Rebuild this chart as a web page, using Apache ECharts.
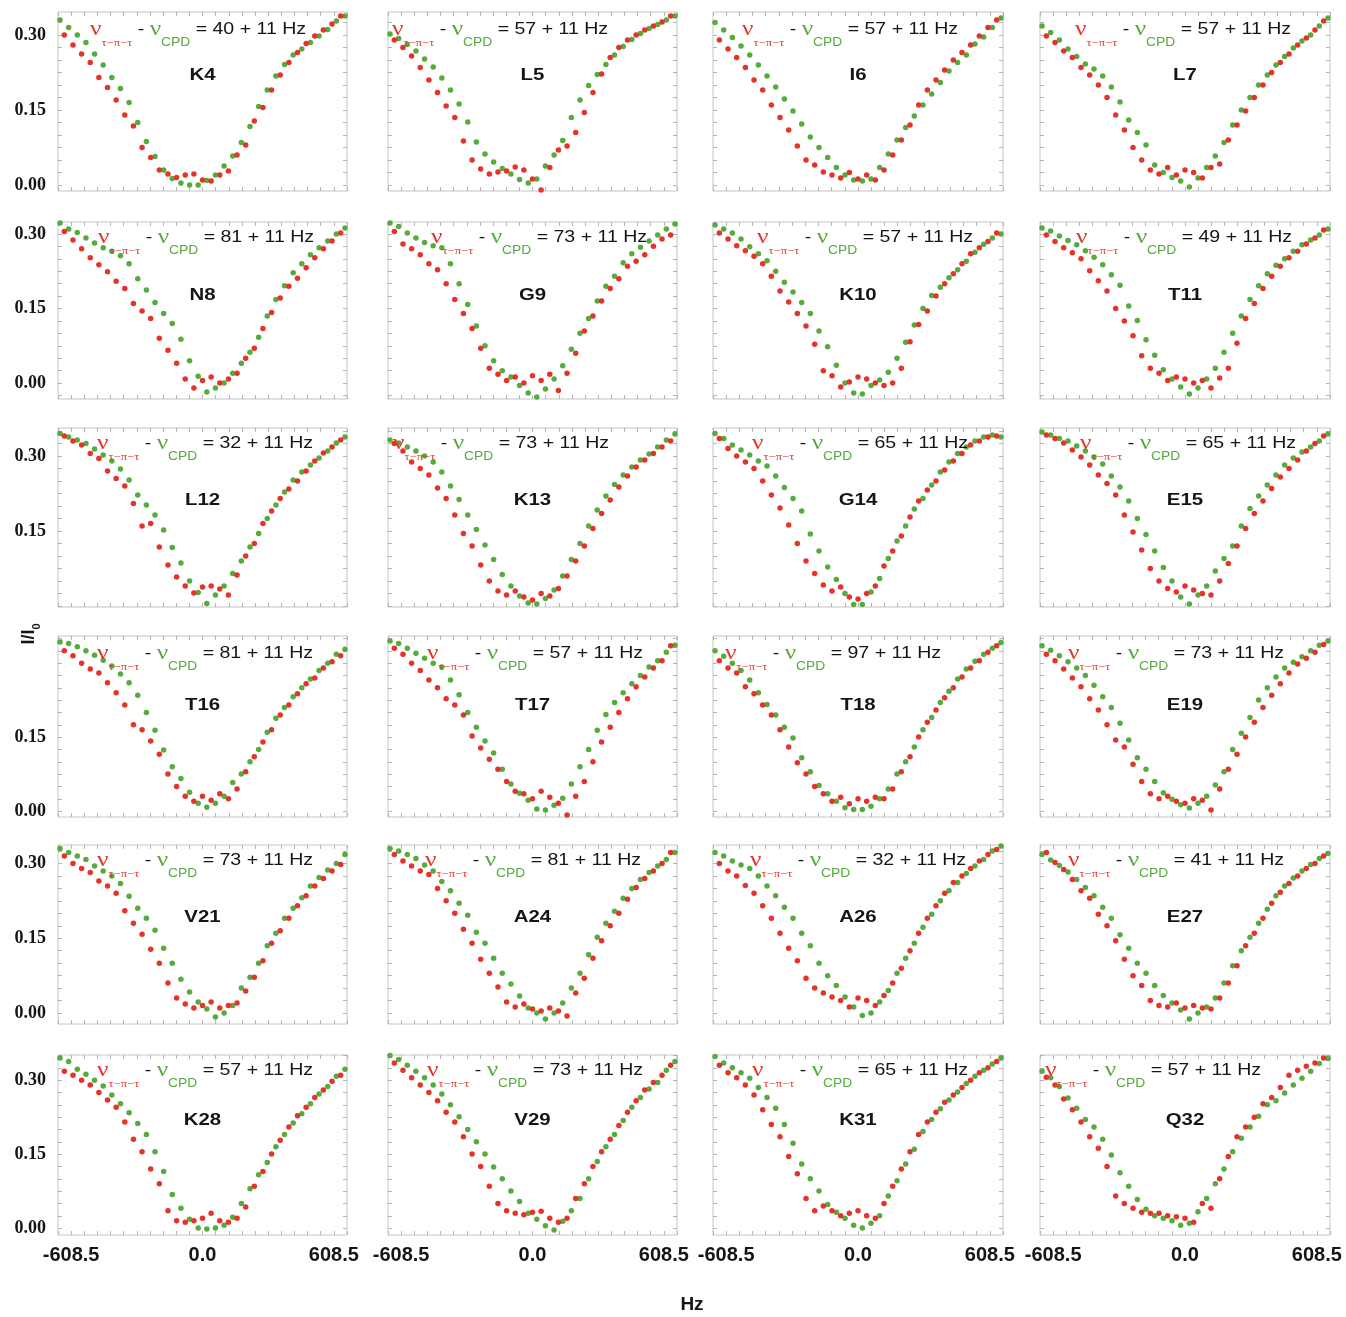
<!DOCTYPE html>
<html><head><meta charset="utf-8">
<script src="https://cdn.jsdelivr.net/npm/echarts@6/dist/echarts.min.js"></script>
<style>html,body{margin:0;padding:0;background:#fff}#c{width:1346px;height:1317px}</style>
</head><body><div id="c"></div>
<script>
// ---------- data ----------
const xGreen = [-660,-620,-580,-540,-500,-460,-420,-380,-340,-300,-260,-220,-180,-140,-100,-60,-20,20,60,100,140,180,220,260,300,340,380,420,460,500,540,580,620,660];
const xRed = [-640,-600,-560,-520,-480,-440,-400,-360,-320,-280,-240,-200,-160,-120,-80,-40,0,40,80,120,160,200,240,280,320,360,400,440,480,520,560,600,640];
const panelNames = ['K4','L5','I6','L7','N8','G9','K10','T11','L12','K13','G14','E15','T16','T17','T18','E19','V21','A24','A26','E27','K28','V29','K31','Q32'];
const deltaNu = [40,57,57,57,81,73,57,49,32,73,65,65,81,57,97,73,73,81,32,41,57,73,65,57];
const deltaErr = 11;
const xTickLabels = [-608.5, 0, 608.5];

const gK4 = [0.33,0.315,0.30,0.285,0.262,0.24,0.215,0.193,0.165,0.125,0.087,0.057,0.03,0.013,0.004,0.0,0.0,0.009,0.02,0.038,0.058,0.085,0.117,0.157,0.19,0.218,0.241,0.26,0.272,0.285,0.298,0.311,0.328,0.338];
const rK4 = [0.30,0.28,0.262,0.245,0.215,0.195,0.17,0.14,0.118,0.075,0.055,0.03,0.022,0.015,0.02,0.022,0.01,0.008,0.02,0.028,0.06,0.08,0.128,0.155,0.19,0.22,0.245,0.265,0.283,0.298,0.31,0.322,0.338];
const gL5 = [0.302,0.293,0.281,0.268,0.252,0.236,0.214,0.19,0.162,0.126,0.086,0.062,0.046,0.033,0.022,0.011,0.004,0.012,0.038,0.06,0.089,0.135,0.17,0.199,0.221,0.241,0.26,0.277,0.291,0.303,0.313,0.321,0.33,0.338];
const rL5 = [0.29,0.275,0.258,0.235,0.21,0.185,0.158,0.135,0.088,0.05,0.032,0.022,0.026,0.028,0.036,0.03,0.012,-0.01,0.035,0.07,0.078,0.105,0.145,0.185,0.222,0.255,0.275,0.29,0.3,0.31,0.318,0.326,0.338];
const gI6 = [0.325,0.31,0.295,0.278,0.26,0.24,0.218,0.196,0.172,0.148,0.122,0.096,0.075,0.055,0.035,0.02,0.01,0.008,0.012,0.035,0.062,0.09,0.115,0.138,0.16,0.182,0.205,0.228,0.245,0.26,0.282,0.296,0.315,0.334];
const rI6 = [0.29,0.272,0.255,0.235,0.21,0.19,0.16,0.135,0.11,0.078,0.05,0.04,0.026,0.02,0.014,0.025,0.012,0.02,0.01,0.03,0.06,0.09,0.12,0.16,0.19,0.21,0.23,0.25,0.265,0.28,0.298,0.315,0.33];
const gL7 = [0.318,0.305,0.29,0.272,0.257,0.242,0.232,0.218,0.196,0.166,0.13,0.105,0.08,0.04,0.025,0.015,0.008,-0.004,0.014,0.035,0.058,0.085,0.12,0.15,0.175,0.2,0.22,0.24,0.257,0.274,0.288,0.3,0.318,0.334];
const rL7 = [0.298,0.285,0.268,0.255,0.235,0.22,0.2,0.175,0.14,0.11,0.075,0.05,0.03,0.022,0.035,0.02,0.03,0.025,0.014,0.035,0.042,0.09,0.12,0.148,0.175,0.2,0.225,0.245,0.262,0.28,0.294,0.31,0.328];
const gN8 = [0.322,0.31,0.303,0.292,0.282,0.272,0.265,0.256,0.24,0.21,0.187,0.162,0.14,0.12,0.088,0.045,0.014,-0.018,-0.01,0.0,0.02,0.04,0.062,0.092,0.135,0.168,0.196,0.222,0.24,0.258,0.272,0.286,0.3,0.312];
const rN8 = [0.305,0.288,0.27,0.252,0.238,0.224,0.205,0.19,0.16,0.145,0.13,0.09,0.066,0.04,0.008,-0.01,0.005,0.012,0.0,0.008,0.02,0.05,0.07,0.11,0.142,0.171,0.195,0.211,0.232,0.252,0.27,0.286,0.302];
const gG9 = [0.322,0.315,0.302,0.292,0.283,0.276,0.272,0.24,0.2,0.158,0.115,0.075,0.045,0.025,0.012,-0.005,-0.02,-0.028,-0.012,0.008,0.035,0.068,0.1,0.13,0.165,0.195,0.215,0.242,0.26,0.273,0.286,0.298,0.31,0.32];
const rG9 = [0.305,0.28,0.27,0.258,0.24,0.228,0.2,0.168,0.14,0.11,0.07,0.03,0.018,0.005,0.012,0.0,0.015,0.005,0.018,-0.015,0.02,0.06,0.105,0.135,0.165,0.19,0.21,0.235,0.245,0.258,0.275,0.29,0.298];
const gK10 = [0.318,0.31,0.302,0.29,0.274,0.26,0.246,0.225,0.203,0.183,0.162,0.14,0.105,0.073,0.036,0.0,-0.02,-0.022,-0.005,0.006,0.022,0.05,0.082,0.117,0.15,0.176,0.193,0.212,0.228,0.245,0.263,0.279,0.292,0.3];
const rK10 = [0.302,0.29,0.276,0.266,0.255,0.24,0.215,0.185,0.163,0.14,0.115,0.078,0.025,0.015,-0.008,0.002,0.012,0.008,0.0,-0.005,0.0,0.03,0.083,0.118,0.145,0.175,0.2,0.22,0.24,0.26,0.272,0.285,0.302];
const gT11 = [0.312,0.306,0.296,0.287,0.278,0.266,0.253,0.238,0.218,0.197,0.155,0.126,0.087,0.056,0.027,0.008,-0.008,-0.022,-0.01,0.008,0.03,0.062,0.1,0.135,0.168,0.196,0.22,0.237,0.25,0.265,0.278,0.288,0.298,0.31];
const rT11 = [0.298,0.285,0.272,0.262,0.25,0.226,0.206,0.185,0.15,0.125,0.095,0.055,0.03,0.02,0.005,0.012,0.008,0.0,0.005,-0.01,0.01,0.03,0.08,0.13,0.16,0.19,0.215,0.235,0.252,0.265,0.28,0.292,0.308];
const gL12 = [0.345,0.338,0.332,0.325,0.314,0.302,0.29,0.274,0.252,0.222,0.202,0.182,0.152,0.117,0.086,0.05,0.027,0.005,0.022,0.04,0.065,0.09,0.118,0.145,0.175,0.202,0.228,0.252,0.268,0.282,0.296,0.31,0.326,0.338];
const rL12 = [0.34,0.33,0.322,0.305,0.295,0.27,0.255,0.24,0.205,0.16,0.165,0.118,0.082,0.058,0.04,0.026,0.038,0.04,0.034,0.022,0.062,0.1,0.125,0.165,0.19,0.215,0.234,0.25,0.27,0.29,0.306,0.318,0.332];
const gK13 = [0.332,0.326,0.318,0.31,0.3,0.288,0.268,0.24,0.213,0.182,0.153,0.122,0.093,0.063,0.04,0.02,0.006,0.004,0.015,0.032,0.06,0.093,0.125,0.16,0.192,0.22,0.243,0.262,0.278,0.292,0.304,0.318,0.332,0.344];
const rK13 = [0.325,0.31,0.288,0.275,0.262,0.236,0.215,0.182,0.145,0.12,0.082,0.05,0.03,0.022,0.03,0.018,0.012,0.025,0.02,0.035,0.06,0.09,0.12,0.155,0.185,0.212,0.238,0.26,0.278,0.292,0.305,0.318,0.33];
const gG14 = [0.345,0.335,0.322,0.312,0.302,0.29,0.28,0.26,0.237,0.215,0.19,0.144,0.11,0.078,0.053,0.025,0.003,0.003,0.028,0.055,0.095,0.13,0.16,0.194,0.215,0.242,0.268,0.288,0.305,0.318,0.33,0.338,0.342,0.338];
const rG14 = [0.335,0.315,0.3,0.288,0.275,0.25,0.222,0.196,0.162,0.125,0.09,0.065,0.042,0.03,0.038,0.018,0.014,0.025,0.04,0.08,0.11,0.14,0.178,0.21,0.232,0.25,0.272,0.29,0.305,0.322,0.33,0.338,0.34];
const gE15 = [0.348,0.342,0.335,0.33,0.32,0.31,0.298,0.284,0.26,0.238,0.21,0.175,0.143,0.11,0.077,0.05,0.018,0.004,0.022,0.04,0.07,0.095,0.12,0.16,0.195,0.22,0.242,0.262,0.282,0.296,0.308,0.318,0.33,0.344];
const rE15 = [0.342,0.335,0.326,0.312,0.298,0.282,0.262,0.245,0.222,0.182,0.148,0.112,0.075,0.05,0.035,0.028,0.04,0.032,0.025,0.022,0.05,0.085,0.12,0.155,0.185,0.21,0.235,0.258,0.275,0.292,0.31,0.325,0.34];
const gT16 = [0.343,0.34,0.333,0.325,0.316,0.306,0.294,0.278,0.26,0.235,0.2,0.164,0.124,0.09,0.066,0.038,0.016,0.008,0.016,0.03,0.058,0.075,0.1,0.125,0.16,0.188,0.21,0.232,0.25,0.268,0.285,0.3,0.318,0.328];
const rT16 = [0.325,0.315,0.3,0.288,0.28,0.26,0.24,0.215,0.175,0.165,0.142,0.115,0.075,0.05,0.03,0.02,0.03,0.022,0.035,0.025,0.045,0.08,0.11,0.14,0.165,0.195,0.215,0.238,0.258,0.27,0.29,0.303,0.315];
const gT17 = [0.345,0.34,0.33,0.32,0.31,0.3,0.292,0.266,0.236,0.2,0.17,0.142,0.118,0.085,0.055,0.036,0.022,0.004,0.002,0.012,0.026,0.055,0.09,0.125,0.164,0.196,0.22,0.24,0.258,0.275,0.292,0.305,0.322,0.336];
const rT17 = [0.33,0.318,0.3,0.285,0.266,0.25,0.228,0.215,0.195,0.152,0.128,0.105,0.085,0.06,0.04,0.035,0.025,0.04,0.028,0.016,-0.008,0.03,0.06,0.1,0.14,0.17,0.2,0.228,0.252,0.272,0.29,0.305,0.335];
const gT18 = [0.325,0.314,0.3,0.285,0.266,0.24,0.216,0.195,0.17,0.148,0.108,0.08,0.052,0.035,0.02,0.007,0.003,0.003,0.01,0.025,0.045,0.075,0.1,0.13,0.165,0.19,0.22,0.243,0.268,0.288,0.304,0.318,0.33,0.342];
const rT18 = [0.305,0.29,0.28,0.252,0.238,0.215,0.195,0.165,0.13,0.098,0.075,0.05,0.035,0.02,0.028,0.015,0.025,0.02,0.028,0.025,0.045,0.08,0.11,0.15,0.18,0.205,0.23,0.25,0.272,0.29,0.305,0.322,0.335];
const gE19 = [0.335,0.326,0.315,0.303,0.29,0.275,0.255,0.232,0.21,0.178,0.144,0.108,0.085,0.06,0.037,0.024,0.013,0.006,0.016,0.03,0.053,0.08,0.125,0.158,0.19,0.225,0.25,0.272,0.29,0.302,0.313,0.325,0.336,0.345];
const rE19 = [0.318,0.305,0.288,0.27,0.252,0.228,0.205,0.175,0.144,0.13,0.095,0.06,0.035,0.025,0.03,0.02,0.016,0.025,0.022,0.002,0.045,0.085,0.115,0.15,0.18,0.21,0.235,0.258,0.28,0.298,0.31,0.322,0.338];
const gV21 = [0.33,0.322,0.315,0.308,0.295,0.285,0.275,0.26,0.234,0.21,0.19,0.166,0.13,0.1,0.068,0.042,0.022,0.008,-0.008,0.0,0.015,0.05,0.072,0.1,0.135,0.16,0.19,0.21,0.231,0.255,0.272,0.287,0.3,0.318];
const rV21 = [0.315,0.3,0.29,0.282,0.265,0.255,0.24,0.205,0.18,0.158,0.128,0.1,0.06,0.03,0.018,0.01,0.015,0.022,0.01,0.015,0.02,0.044,0.072,0.105,0.14,0.165,0.19,0.215,0.235,0.255,0.27,0.285,0.298];
const gA24 = [0.33,0.325,0.318,0.31,0.297,0.285,0.264,0.245,0.22,0.196,0.162,0.14,0.11,0.08,0.058,0.034,0.01,0.0,-0.012,0.0,0.02,0.05,0.08,0.117,0.152,0.18,0.204,0.23,0.25,0.268,0.282,0.295,0.308,0.322];
const rA24 = [0.318,0.305,0.295,0.285,0.278,0.25,0.225,0.2,0.168,0.14,0.108,0.08,0.052,0.022,0.012,0.018,0.008,0.004,0.01,0.004,-0.006,0.04,0.07,0.11,0.145,0.175,0.2,0.228,0.252,0.27,0.285,0.3,0.322];
const gA26 = [0.322,0.315,0.305,0.297,0.29,0.275,0.255,0.235,0.212,0.19,0.16,0.135,0.1,0.075,0.055,0.032,0.012,-0.005,0.0,0.022,0.045,0.08,0.11,0.14,0.172,0.198,0.225,0.245,0.262,0.28,0.295,0.308,0.325,0.335];
const rA26 = [0.3,0.285,0.275,0.256,0.24,0.215,0.19,0.16,0.13,0.105,0.07,0.05,0.04,0.032,0.025,0.012,0.03,0.025,0.015,0.035,0.06,0.09,0.125,0.16,0.19,0.215,0.24,0.262,0.275,0.29,0.305,0.318,0.328];
const gE27 = [0.318,0.307,0.296,0.283,0.268,0.252,0.235,0.212,0.19,0.157,0.13,0.1,0.08,0.055,0.035,0.02,0.006,-0.012,0.0,0.012,0.03,0.06,0.095,0.125,0.152,0.18,0.208,0.235,0.255,0.271,0.285,0.298,0.31,0.32];
const rE27 = [0.322,0.302,0.288,0.268,0.245,0.23,0.198,0.175,0.145,0.108,0.075,0.055,0.025,0.015,0.012,0.02,0.01,0.015,0.01,0.008,0.03,0.06,0.095,0.135,0.16,0.19,0.22,0.242,0.26,0.275,0.29,0.3,0.315];
const gK28 = [0.345,0.338,0.322,0.312,0.3,0.288,0.27,0.252,0.234,0.212,0.19,0.155,0.115,0.068,0.04,0.018,0.0,-0.002,0.0,0.006,0.022,0.05,0.08,0.108,0.133,0.165,0.19,0.213,0.232,0.252,0.272,0.287,0.308,0.322];
const rK28 = [0.318,0.31,0.3,0.29,0.275,0.26,0.245,0.215,0.18,0.155,0.12,0.09,0.035,0.015,0.012,0.015,0.02,0.03,0.015,0.012,0.02,0.043,0.085,0.115,0.15,0.178,0.205,0.228,0.245,0.265,0.28,0.298,0.31];
const gV29 = [0.35,0.342,0.33,0.318,0.305,0.29,0.272,0.25,0.226,0.2,0.175,0.15,0.124,0.1,0.075,0.054,0.03,0.018,0.005,-0.004,0.014,0.035,0.06,0.1,0.135,0.165,0.19,0.218,0.245,0.265,0.282,0.295,0.32,0.338];
const rV29 = [0.335,0.32,0.305,0.29,0.275,0.258,0.235,0.215,0.185,0.15,0.125,0.085,0.05,0.035,0.03,0.027,0.032,0.034,0.02,0.012,0.02,0.06,0.09,0.125,0.155,0.18,0.208,0.235,0.258,0.28,0.295,0.31,0.33];
const gK31 = [0.348,0.335,0.325,0.315,0.304,0.285,0.265,0.243,0.21,0.172,0.13,0.1,0.075,0.048,0.032,0.02,0.006,0.0,0.01,0.025,0.065,0.096,0.13,0.16,0.196,0.22,0.242,0.26,0.276,0.293,0.308,0.32,0.333,0.345];
const rK31 = [0.33,0.315,0.305,0.29,0.27,0.24,0.21,0.185,0.145,0.11,0.06,0.035,0.045,0.035,0.025,0.03,0.035,0.025,0.02,0.05,0.085,0.12,0.155,0.19,0.215,0.235,0.255,0.27,0.285,0.3,0.315,0.325,0.338];
const gQ32 = [0.318,0.305,0.287,0.264,0.243,0.22,0.205,0.18,0.148,0.112,0.085,0.058,0.038,0.025,0.02,0.015,0.006,0.01,0.033,0.06,0.09,0.12,0.155,0.182,0.205,0.227,0.25,0.258,0.274,0.29,0.304,0.318,0.334,0.344];
const rQ32 = [0.306,0.29,0.262,0.24,0.215,0.185,0.162,0.125,0.065,0.05,0.04,0.032,0.03,0.03,0.025,0.023,0.02,0.012,0.05,0.04,0.1,0.145,0.185,0.205,0.225,0.252,0.265,0.285,0.31,0.32,0.328,0.335,0.345];

const greenSets = [gK4,gL5,gI6,gL7,gN8,gG9,gK10,gT11,gL12,gK13,gG14,gE15,gT16,gT17,gT18,gE19,gV21,gA24,gA26,gE27,gK28,gV29,gK31,gQ32];
const redSets = [rK4,rL5,rI6,rL7,rN8,rG9,rK10,rT11,rL12,rK13,rG14,rE15,rT16,rT17,rT18,rE19,rV21,rA24,rA26,rE27,rK28,rV29,rK31,rQ32];

// ---------- layout / style ----------
const RED = '#e5332a', GREEN = '#55ab3c', INK = '#151515';
const SANS = '"Liberation Sans", Arial, sans-serif';
const SERIF = '"Liberation Serif", "Times New Roman", serif';
const colLeft = [58, 388, 713, 1040], colW = [289, 289, 290, 290];
const rowTop = [12, 222, 428, 636, 845, 1055], rowH = [179, 177, 179, 181, 179, 180];
const rowYMin = [-0.012, -0.032, -0.002, -0.012, -0.022, -0.014];
const rowYMax = [0.346, 0.324, 0.356, 0.355, 0.337, 0.351];
const rowYLabels = [[0, 0.15, 0.3], [0, 0.15, 0.3], [0.15, 0.3], [0, 0.15], [0, 0.15, 0.3], [0, 0.15, 0.3]];
const formulaDX = [32, 4, 29, 35, 40, 43, 44, 36, 39, 5, 39, 40, 39, 39, 12, 28, 39, 37, 37, 28, 39, 39, 39, 5];
const formulaDY = [17, 15, 15, 17, 15, 15];
const labelDY = [63, 73, 72, 69, 72, 65];
const X_MIN = -669.35, X_MAX = 669.35, X_STEP = 60.85;

const xTicks = [];
for (let k = -11; k <= 11; k++) xTicks.push(+(k * X_STEP).toFixed(2));
function yTicksFor(r) {
  const out = [];
  for (let v = Math.ceil(rowYMin[r] / 0.025) * 0.025; v <= rowYMax[r] + 1e-9; v += 0.025) out.push(Math.round(v * 1000) / 1000);
  return out;
}

const grids = [], xAxes = [], yAxes = [], series = [], graphics = [];
panelNames.forEach((name, i) => {
  const r = Math.floor(i / 4), c = i % 4;
  grids.push({ left: colLeft[c], top: rowTop[r], width: colW[c], height: rowH[r], show: true,
    borderColor: '#c6c6c6', borderWidth: 1, backgroundColor: 'transparent' });
  const tickStyle = { show: true, inside: true, length: 4, lineStyle: { color: '#b5b5b5', width: 1 } };
  const noLine = { show: false, onZero: false };
  const yT = yTicksFor(r);
  xAxes.push({ gridIndex: i, type: 'value', position: 'bottom', min: X_MIN, max: X_MAX,
    axisLine: noLine, splitLine: { show: false },
    axisTick: Object.assign({ customValues: xTicks }, tickStyle),
    axisLabel: { show: r === 5, customValues: xTickLabels, formatter: v => v.toFixed(1),
      fontFamily: SANS, fontWeight: 'bold', fontSize: 20, color: INK, margin: 10 } });
  xAxes.push({ gridIndex: i, type: 'value', position: 'top', min: X_MIN, max: X_MAX,
    axisLine: noLine, splitLine: { show: false },
    axisTick: Object.assign({ customValues: xTicks }, tickStyle), axisLabel: { show: false } });
  yAxes.push({ gridIndex: i, type: 'value', position: 'left', min: rowYMin[r], max: rowYMax[r],
    axisLine: noLine, splitLine: { show: false },
    axisTick: Object.assign({ customValues: yT }, tickStyle),
    axisLabel: { show: c === 0, customValues: rowYLabels[r], formatter: v => v.toFixed(2),
      fontFamily: SERIF, fontWeight: 'bold', fontSize: 18, color: INK, margin: 12 } });
  yAxes.push({ gridIndex: i, type: 'value', position: 'right', min: rowYMin[r], max: rowYMax[r],
    axisLine: noLine, splitLine: { show: false },
    axisTick: Object.assign({ customValues: yT }, tickStyle), axisLabel: { show: false } });

  series.push({ type: 'scatter', name: name + ' CPD', xAxisIndex: 2 * i, yAxisIndex: 2 * i,
    symbolSize: 5.5, itemStyle: { color: GREEN, opacity: 1 }, silent: true,
    data: xGreen.map((x, j) => [x, greenSets[i][j]]) });
  series.push({ type: 'scatter', name: name + ' tpt', xAxisIndex: 2 * i, yAxisIndex: 2 * i,
    symbolSize: 5.5, itemStyle: { color: RED, opacity: 1 }, silent: true,
    data: xRed.map((x, j) => [x, redSets[i][j]]) });

  graphics.push({ type: 'text', x: colLeft[c] + formulaDX[i], y: rowTop[r] + formulaDY[r], scaleX: 1.15, z: 100,
    style: {
      text: '{nu|\u03BD}{s1|\u03C4\u2212\u03C0\u2212\u03C4}{m| - }{nug|\u03BD}{s2|CPD}{m| = ' + deltaNu[i] + ' + ' + deltaErr + ' Hz}',
      align: 'left', verticalAlign: 'middle',
      rich: {
        nu: { fontFamily: SERIF, fontSize: 22, fill: RED, lineHeight: 40, verticalAlign: 'middle' },
        s1: { fontFamily: SERIF, fontSize: 11, fill: RED, lineHeight: 11, verticalAlign: 'bottom' },
        m: { fontFamily: SANS, fontSize: 17, fill: INK, lineHeight: 40, verticalAlign: 'middle' },
        nug: { fontFamily: SERIF, fontSize: 22, fill: GREEN, lineHeight: 40, verticalAlign: 'middle' },
        s2: { fontFamily: SANS, fontSize: 12, fill: GREEN, lineHeight: 22, verticalAlign: 'bottom' }
      }
    } });
  graphics.push({ type: 'text', x: colLeft[c] + colW[c] / 2, y: rowTop[r] + labelDY[r], scaleX: 1.2, z: 100,
    style: { text: name, fontFamily: SANS, fontWeight: 'bold', fontSize: 17, fill: INK, align: 'center', verticalAlign: 'middle' } });
});

graphics.push({ type: 'text', x: 29, y: 634, rotation: Math.PI / 2, z: 100,
  style: { text: '{a|I/I}{b|0}', align: 'center', verticalAlign: 'middle',
    rich: { a: { fontFamily: SANS, fontWeight: 'bold', fontSize: 18, fill: INK, lineHeight: 26, verticalAlign: 'middle' },
            b: { fontFamily: SANS, fontWeight: 'bold', fontSize: 11, fill: INK, lineHeight: 11, verticalAlign: 'bottom' } } } });
graphics.push({ type: 'text', x: 692, y: 1305, z: 100,
  style: { text: 'Hz', fontFamily: SANS, fontWeight: 'bold', fontSize: 19, fill: INK, align: 'center', verticalAlign: 'middle' } });

const chart = echarts.init(document.getElementById('c'), null, { renderer: 'canvas', width: 1346, height: 1317 });
chart.setOption({ animation: false, backgroundColor: '#fff', grid: grids, xAxis: xAxes, yAxis: yAxes, series: series, graphic: graphics });
</script></body></html>
